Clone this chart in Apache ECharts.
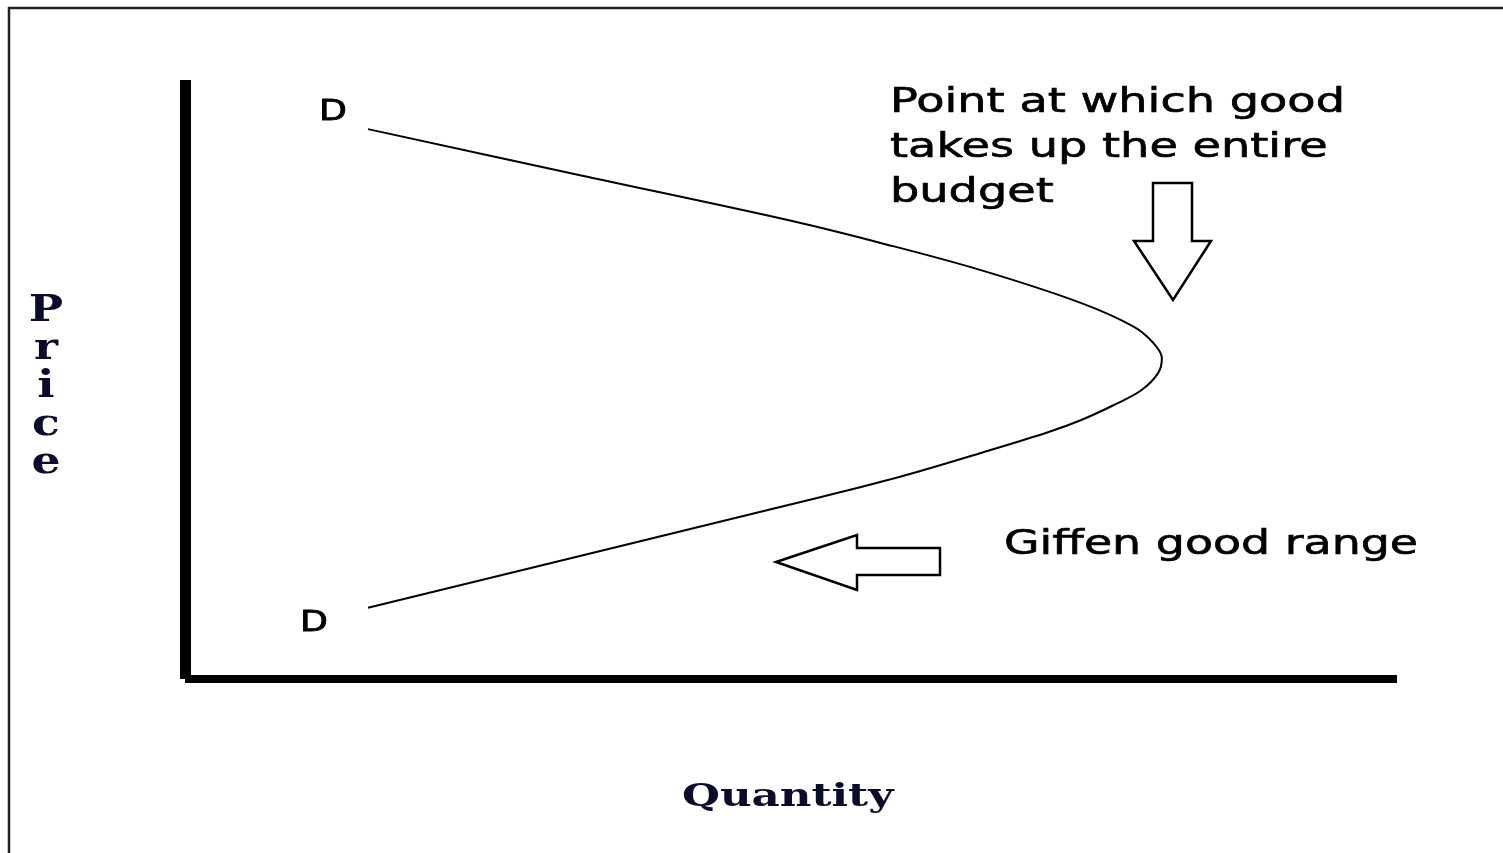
<!DOCTYPE html>
<html>
<head>
<meta charset="utf-8">
<title>Giffen good demand curve</title>
<script src="https://cdn.jsdelivr.net/npm/echarts@6/dist/echarts.min.js"></script>
<style>
  html, body {margin: 0; padding: 0; background: #fff;}
  #chart {width: 1503px; height: 853px;}
</style>
</head>
<body>
<div id="chart"></div>
<script>
// demand curve D-D (quantity, price on a 0..100 scale)
const quantity = [15.1, 32.6, 50.0, 57.4, 65.6, 73.9, 78.3, 79.9, 80.6, 80.3, 78.9, 76.6, 73.9, 71.2, 65.6, 60.1, 54.7, 49.1, 15.1]
const price = [91.8, 84.1, 76.5, 72.8, 68.3, 62.8, 58.8, 56.1, 53.6, 51.1, 48.2, 45.7, 43.2, 41.2, 37.7, 34.4, 31.5, 28.7, 11.9]

const curveLabel = 'D'
const xTitle = 'Quantity'
const yTitle = 'Price'
const noteTop = 'Point at which good\ntakes up the entire\nbudget'
const noteGiffen = 'Giffen good range'

const curve = quantity.map((q, i) => [q, price[i]])

const chart = echarts.init(document.getElementById('chart'), null, {renderer: 'canvas'})

const sans = 'DejaVu Sans'
const serif = 'DejaVu Serif'

const option = {
  animation: false,
  backgroundColor: '#fff',
  grid: {left: 185, right: 106, top: 80, bottom: 174},
  xAxis: {
    type: 'value',
    min: 0,
    max: 100,
    axisLine: {show: true, lineStyle: {color: '#000', width: 8, cap: 'butt'}},
    axisTick: {show: false},
    axisLabel: {show: false},
    splitLine: {show: false},
  },
  yAxis: {
    type: 'value',
    min: 0,
    max: 100,
    axisLine: {show: true, lineStyle: {color: '#000', width: 11, cap: 'butt'}},
    axisTick: {show: false},
    axisLabel: {show: false},
    splitLine: {show: false},
  },
  series: [
    {
      type: 'line',
      data: curve,
      smooth: 0.35,
      symbol: 'none',
      lineStyle: {color: '#000', width: 2},
    },
  ],
  graphic: [
    // frame of the original picture (top and left edges only)
    {
      type: 'polyline',
      shape: {points: [[9, 853], [9, 8], [1503, 8]]},
      style: {stroke: '#222', lineWidth: 2.5, fill: null},
    },
    // arrow pointing down at the turning point
    {
      type: 'polygon',
      shape: {points: [[1153, 183], [1192, 183], [1192, 241], [1211, 241], [1173, 300], [1134, 241], [1153, 241]]},
      style: {stroke: '#000', lineWidth: 2.5, fill: '#fff'},
    },
    // arrow pointing left along the Giffen range
    {
      type: 'polygon',
      shape: {points: [[776, 562], [857, 535], [857, 548], [940, 548], [940, 575], [857, 575], [857, 590]]},
      style: {stroke: '#000', lineWidth: 2.5, fill: '#fff'},
    },
    {
      type: 'text', x: 319, y: 112, scaleX: 1.25,
      style: {text: curveLabel, font: '29px "' + sans + '"', fill: '#000', stroke: '#000', lineWidth: 0.8, textAlign: 'left', textVerticalAlign: 'middle'},
    },
    {
      type: 'text', x: 300, y: 623, scaleX: 1.25,
      style: {text: curveLabel, font: '29px "' + sans + '"', fill: '#000', stroke: '#000', lineWidth: 0.8, textAlign: 'left', textVerticalAlign: 'middle'},
    },
    {
      type: 'text', x: 890, y: 81, scaleX: 1.4,
      style: {text: noteTop, font: '33px "' + sans + '"', lineHeight: 45, fill: '#000', stroke: '#000', lineWidth: 0.6, textAlign: 'left', textVerticalAlign: 'top'},
    },
    {
      type: 'text', x: 1004, y: 545, scaleX: 1.39,
      style: {text: noteGiffen, font: '33px "' + sans + '"', fill: '#000', stroke: '#000', lineWidth: 0.6, textAlign: 'left', textVerticalAlign: 'middle'},
    },
    {
      type: 'text', x: 682, y: 798, scaleX: 1.36,
      style: {text: xTitle, font: 'bold 32px "' + serif + '"', fill: '#0b0b2a', textAlign: 'left', textVerticalAlign: 'middle'},
    },
    {
      type: 'text', x: 46, y: 292, scaleX: 1.2,
      style: {text: yTitle.split('').join('\n'), font: 'bold 38px "' + serif + '"', lineHeight: 38, fill: '#0b0b2a', textAlign: 'center', textVerticalAlign: 'top'},
    },
  ],
}

chart.setOption(option)
</script>
</body>
</html>
